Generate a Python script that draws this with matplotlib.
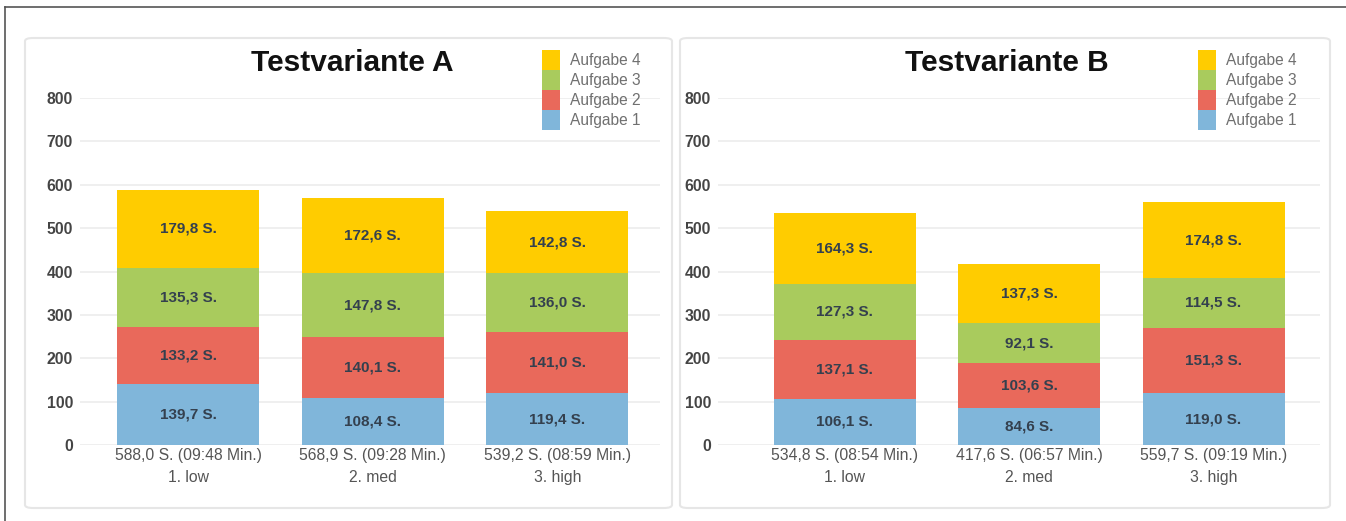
import matplotlib
matplotlib.use("Agg")
import matplotlib.pyplot as plt
import matplotlib.patches as ptch
import matplotlib.lines as lns
import numpy as np

plt.rcParams['font.family'] = ['Liberation Sans', 'DejaVu Sans']

# Bearbeitungszeiten in Sekunden je Aufgabe und Gruppe
groups = ["1. low", "2. med", "3. high"]
tasks = ["Aufgabe 1", "Aufgabe 2", "Aufgabe 3", "Aufgabe 4"]

a_task1 = [139.7, 108.4, 119.4]
a_task2 = [133.2, 140.1, 141.0]
a_task3 = [135.3, 147.8, 136.0]
a_task4 = [179.8, 172.6, 142.8]
a_totals = [588.0, 568.9, 539.2]

b_task1 = [106.1, 84.6, 119.0]
b_task2 = [137.1, 103.6, 151.3]
b_task3 = [127.3, 92.1, 114.5]
b_task4 = [164.3, 137.3, 174.8]
b_totals = [534.8, 417.6, 559.7]

colors = ["#80b6da", "#e9695b", "#a9cb5d", "#ffcc00"]

W, H = 1346, 521
fig = plt.figure(figsize=(W / 100, H / 100), dpi=100)
fig.patch.set_facecolor("white")


def px(x0, y0, x1, y1):
    # pixel box (left, top, right, bottom) -> figure rect
    return [x0 / W, 1 - y1 / H, (x1 - x0) / W, (y1 - y0) / H]


def fmt(v):
    return f"{v:.1f}".replace(".", ",")


def mins(sec):
    m = int(sec // 60)
    s = int(sec - m * 60)
    return f"{m:02d}:{s:02d}"


# aeusserer Rahmen (oben und links)
fig.add_artist(lns.Line2D([5 / W, 5 / W], [0, 1 - 7 / H], color="#555555", lw=1.2))
fig.add_artist(lns.Line2D([5 / W, 1], [1 - 7 / H, 1 - 7 / H], color="#555555", lw=1.2))

# helle Panel-Kaesten
for box in [(25, 38, 672, 508), (680, 38, 1330, 508)]:
    r = px(*box)
    fig.add_artist(ptch.FancyBboxPatch((r[0], r[1]), r[2], r[3],
                                       boxstyle="round,pad=0,rounding_size=0.006",
                                       transform=fig.transFigure, fill=False,
                                       ec="#e6e6e6", lw=1.5))


def panel(rect, xlim, title, title_x, leg_x, stacks, totals):
    ax = fig.add_axes(rect)
    x = np.arange(len(groups))
    bottom = np.zeros(len(groups))
    handles = []
    for vals, col, name in zip(stacks, colors, tasks):
        bars = ax.bar(x, vals, 0.77, bottom=bottom, color=col, label=name, zorder=2)
        ax.bar_label(bars, labels=[fmt(v) + " S." for v in vals], label_type="center",
                     fontsize=11, fontweight="bold", color="#34404e")
        bottom += np.array(vals)
        handles.append(bars)
    ax.set_xlim(*xlim)
    ax.set_ylim(0, 800)
    ax.set_yticks(range(0, 801, 100))
    ax.yaxis.grid(True, color="#ececec", lw=1.2, zorder=0)
    ax.set_axisbelow(True)
    for s in ax.spines.values():
        s.set_visible(False)
    ax.tick_params(length=0)
    ax.tick_params(axis="y", pad=5, labelsize=11.3, labelcolor="#444444")
    for t in ax.get_yticklabels():
        t.set_fontweight("bold")
    ax.set_xticks(x)
    ax.set_xticklabels([f"{fmt(t)} S. ({mins(t)} Min.)\n{g}" for t, g in zip(totals, groups)],
                       fontsize=11.3, color="#555555", linespacing=1.6)
    ax.tick_params(axis="x", pad=2)
    ax.text(title_x, 1.10, title, transform=ax.transAxes, ha="center", va="center",
            fontsize=21.5, fontweight="bold", color="#111111")
    ax.legend(handles[::-1], tasks[::-1], loc="upper right", bbox_to_anchor=(leg_x, 1.138),
              frameon=False, fontsize=11.2, labelcolor="#707070",
              handlelength=1.15, handleheight=1.6, labelspacing=0.0,
              handletextpad=0.65, borderaxespad=0, borderpad=0)
    return ax


panel(px(80, 98, 660, 445), (-0.588, 2.557), "Testvariante A", 0.47, 0.966,
      [a_task1, a_task2, a_task3, a_task4], a_totals)
panel(px(718, 98, 1320, 445), (-0.686, 2.577), "Testvariante B", 0.48, 0.962,
      [b_task1, b_task2, b_task3, b_task4], b_totals)

fig.savefig("out.png", dpi=100)
